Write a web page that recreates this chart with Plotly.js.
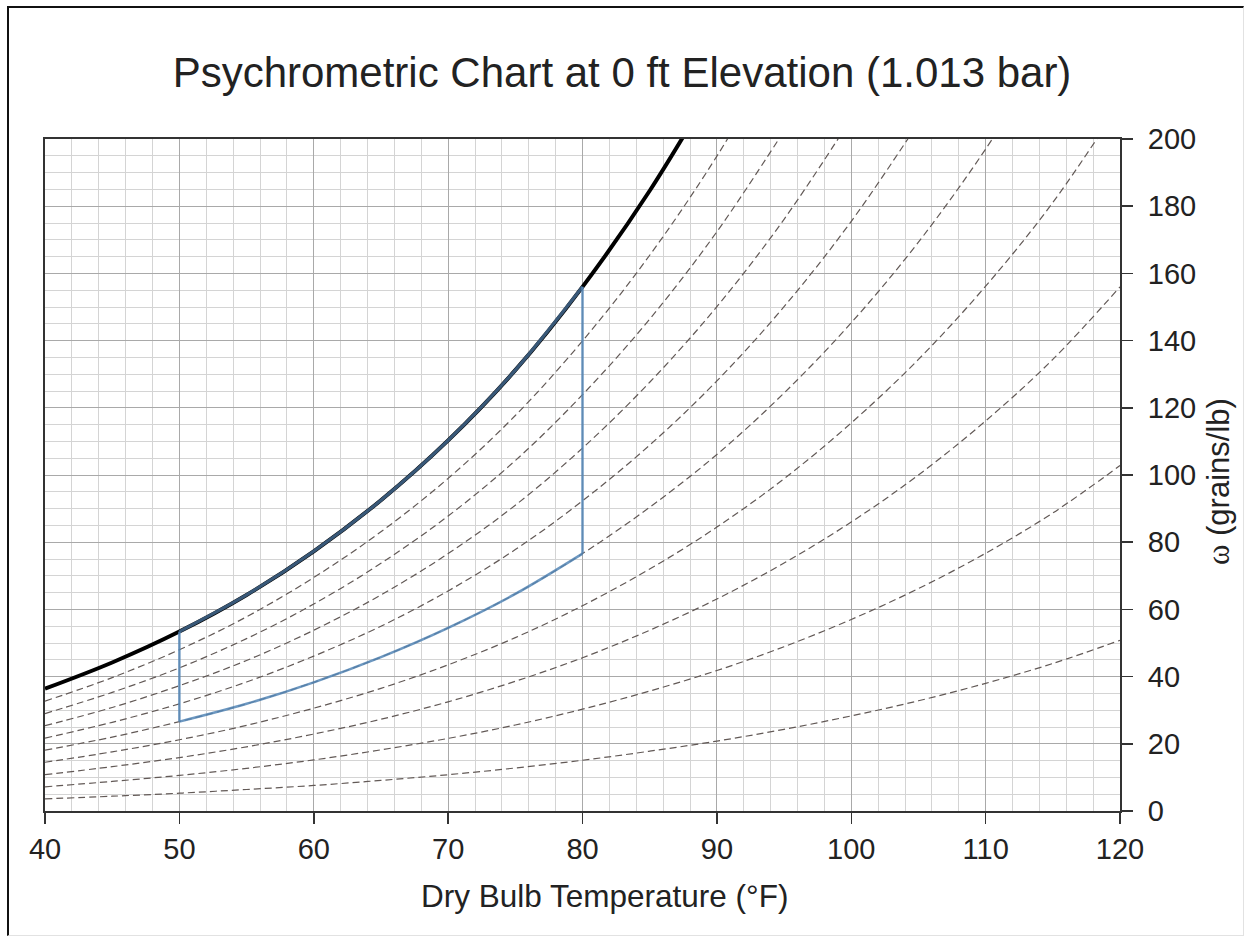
<!DOCTYPE html>
<html>
<head>
<meta charset="utf-8">
<script src="https://cdn.plot.ly/plotly-3.0.1.min.js"></script>
<style>
  html, body { margin: 0; padding: 0; background: #fff; }
  #wrap { position: relative; width: 1249px; height: 937px; }
  #chart { position: absolute; left: 0; top: 0; width: 1249px; height: 937px; }
  #frame { position: absolute; left: 7px; top: 6px; width: 1234px; height: 927px;
           border-left: 2px solid #111; border-top: 2px solid #111;
           border-right: 1px solid #e2e2e2; border-bottom: 1px solid #e2e2e2;
           pointer-events: none; }
</style>
</head>
<body>
<div id="wrap">
  <div id="chart"></div>
  <div id="frame"></div>
</div>
<script>
// Dry bulb temperatures (°F)
const tempF = [40, 45, 50, 55, 60, 65, 70, 75, 80, 85, 90, 95, 100, 105, 110, 115, 120];

// Saturation curve (100% RH), humidity ratio in grains/lb
const satW = [36.4, 44.2, 53.4, 64.3, 77.3, 92.5, 110.3, 131.2, 156.0, 184.6, 217.6];

// Relative humidity curves (dashed), grains/lb
const rh10 = [3.6, 4.4, 5.3, 6.4, 7.6, 9.1, 10.8, 12.8, 15.1, 17.8, 20.8, 24.3, 28.3, 32.8, 38.0, 43.9, 50.8];
const rh20 = [7.2, 8.8, 10.6, 12.7, 15.2, 18.2, 21.6, 25.6, 30.3, 35.7, 41.8, 48.9, 57.0, 66.2, 76.7, 88.7, 102.8];
const rh30 = [10.8, 13.2, 15.9, 19.1, 22.9, 27.3, 32.5, 38.6, 45.6, 53.8, 63.1, 73.8, 86.0, 100.0, 116.1, 134.4, 156.0];
const rh40 = [14.5, 17.6, 21.2, 25.5, 30.6, 36.5, 43.5, 51.6, 61.1, 72.0, 84.5, 98.9, 115.5, 134.4, 156.2, 181.1, 210.5];
const rh50 = [18.1, 22.0, 26.6, 31.9, 38.3, 45.8, 54.5, 64.6, 76.6, 90.4, 106.1, 124.4, 145.3, 169.3, 197.0, 228.7];
const rh60 = [21.7, 26.4, 31.9, 38.4, 46.1, 55.0, 65.5, 77.8, 92.3, 108.9, 128.0, 150.1, 175.5, 204.8];
const rh70 = [25.4, 30.8, 37.3, 44.8, 53.8, 64.3, 76.6, 91.0, 108.0, 127.6, 150.1, 176.1, 206.1];
const rh80 = [29.0, 35.3, 42.6, 51.3, 61.6, 73.7, 87.8, 104.3, 123.9, 146.4, 172.4, 202.4];
const rh90 = [32.7, 39.7, 48.0, 57.8, 69.5, 83.1, 99.0, 117.7, 139.9, 165.4, 194.9, 229.1];

// Comfort zone (blue outline): 50°F to 80°F, between 50% RH and saturation
const zoneT = [50, 55, 60, 65, 70, 75, 80];
const zoneUpper = [53.4, 64.3, 77.3, 92.5, 110.3, 131.2, 156.0];
const zoneLower = [26.6, 31.9, 38.3, 45.8, 54.5, 64.6, 76.6];

// Texts
const chartTitle = 'Psychrometric Chart at 0 ft Elevation (1.013 bar)';
const xTitle = 'Dry Bulb Temperature (°F)';
const yTitle = '<span style="font-family:\'Liberation Serif\'">ω</span> (grains/lb)';

const rhCurves = [rh10, rh20, rh30, rh40, rh50, rh60, rh70, rh80, rh90];

const traces = [];
rhCurves.forEach(arr => {
  traces.push({
    x: tempF.slice(0, arr.length), y: arr, type: 'scatter', mode: 'lines',
    line: { color: '#625956', width: 1.2, dash: '7px,4px', shape: 'spline', smoothing: 1 },
    hoverinfo: 'skip'
  });
});

traces.push({
  x: tempF.slice(0, satW.length), y: satW, type: 'scatter', mode: 'lines',
  line: { color: '#000', width: 4, shape: 'spline', smoothing: 1 }, hoverinfo: 'skip'
});

const blue = 'rgba(84,134,182,0.85)';
const zoneLast = zoneT.length - 1;
traces.push({ x: zoneT, y: zoneUpper, type: 'scatter', mode: 'lines',
  line: { color: 'rgba(70,110,150,0.8)', width: 3.2, shape: 'spline', smoothing: 1 }, hoverinfo: 'skip' });
traces.push({ x: zoneT, y: zoneLower, type: 'scatter', mode: 'lines',
  line: { color: blue, width: 2.5, shape: 'spline', smoothing: 1 }, hoverinfo: 'skip' });
traces.push({ x: [zoneT[zoneLast], zoneT[zoneLast]], y: [zoneUpper[zoneLast], zoneLower[zoneLast]],
  type: 'scatter', mode: 'lines', line: { color: blue, width: 2.5 }, hoverinfo: 'skip' });
traces.push({ x: [zoneT[0], zoneT[0]], y: [zoneUpper[0], zoneLower[0]],
  type: 'scatter', mode: 'lines', line: { color: blue, width: 2.5 }, hoverinfo: 'skip' });

const fontFam = '"Liberation Sans", Arial, sans-serif';

const layout = {
  width: 1249, height: 937,
  margin: { l: 45, r: 129, t: 139, b: 126, pad: 0 },
  paper_bgcolor: '#fff', plot_bgcolor: '#fff',
  showlegend: false,
  font: { family: fontFam, color: '#222' },
  title: {
    text: chartTitle,
    font: { family: fontFam, size: 42, color: '#222' },
    x: 0.498, xanchor: 'center', yref: 'container', y: 1 - 72 / 937, yanchor: 'middle'
  },
  xaxis: {
    range: [40, 120], tick0: 40, dtick: 10,
    ticks: 'outside', ticklen: 11, tickwidth: 1.5, tickcolor: '#333',
    showline: true, mirror: true, linecolor: '#333', linewidth: 2,
    showgrid: true, gridcolor: '#a9a9a9', gridwidth: 1, zeroline: false,
    minor: { dtick: 2, showgrid: true, gridcolor: '#d4d4d4', gridwidth: 1 },
    tickfont: { family: fontFam, size: 29, color: '#222' }
  },
  yaxis: {
    side: 'right', range: [0, 200], tick0: 0, dtick: 20,
    ticks: 'outside', ticklen: 11, tickwidth: 1.5, tickcolor: '#333',
    showline: true, mirror: true, linecolor: '#333', linewidth: 2,
    showgrid: true, gridcolor: '#a9a9a9', gridwidth: 1, zeroline: false,
    minor: { dtick: 5, showgrid: true, gridcolor: '#d4d4d4', gridwidth: 1 },
    tickfont: { family: fontFam, size: 29, color: '#222' },
    ticklabelstandoff: 9
  },
  annotations: [
    { text: xTitle, xref: 'paper', yref: 'paper', x: 0.5209, y: -0.1265,
      xanchor: 'center', yanchor: 'middle', showarrow: false,
      font: { family: fontFam, size: 31.5, color: '#222' } },
    { text: yTitle, xref: 'paper', yref: 'paper', x: 1.0921, y: 0.4896,
      xanchor: 'center', yanchor: 'middle', showarrow: false, textangle: -90,
      font: { family: fontFam, size: 31, color: '#222' } }
  ]
};

Plotly.newPlot('chart', traces, layout, { displayModeBar: false, staticPlot: true });
</script>
</body>
</html>
